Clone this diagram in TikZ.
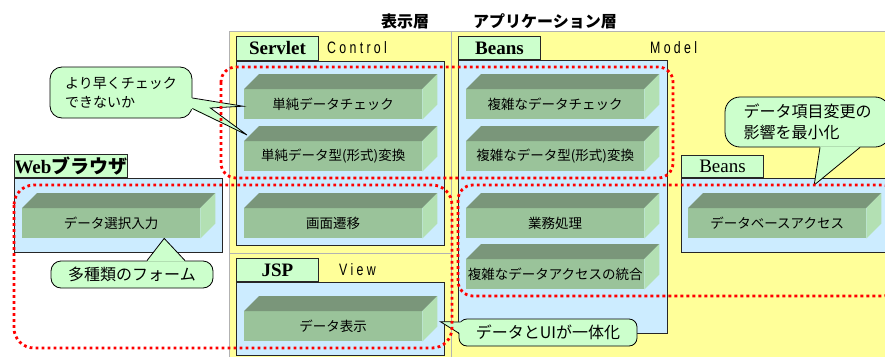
\documentclass[tikz,border=0pt]{standalone}
\usepackage{fontspec}
\setmainfont{Liberation Serif}
\newfontfamily\jp{Noto Sans CJK JP}
\newfontfamily\layerfont[FakeStretch=0.75,LetterSpace=20]{Liberation Sans}
\usetikzlibrary{calc}

\definecolor{layeryellow}{HTML}{FFFF99}
\definecolor{panelblue}{HTML}{CCECFF}
\definecolor{tabgreen}{HTML}{CCFFCC}
\definecolor{frontgreen}{HTML}{9AC39A}
\definecolor{topgreen}{HTML}{7A967A}
\definecolor{sidegreen}{HTML}{B3E0B3}
\definecolor{dotred}{HTML}{FF0000}

\tikzset{
  layer/.style={fill=layeryellow, draw=black!30, line width=1pt},
  panel/.style={fill=panelblue, draw=black!85, line width=1pt, inner sep=0pt, anchor=north west},
  tab/.style={fill=tabgreen, draw=black!85, line width=1pt, inner sep=0pt, anchor=south west,
    minimum width=82pt, minimum height=23pt, font=\fontsize{19}{20}\selectfont},
  brick/.style={fill=frontgreen, minimum width=178pt, minimum height=30pt, inner sep=0pt,
    anchor=north west, font=\jp\fontsize{13.5}{16}\selectfont},
  bricktop/.style={fill=topgreen},
  brickside/.style={fill=sidegreen},
  title/.style={font=\jp\bfseries\fontsize{16}{18}\selectfont, inner sep=0pt},
  layerlabel/.style={font=\layerfont\fontsize{16.5}{18}\selectfont, inner sep=0pt, anchor=west},
  callout/.style={fill=tabgreen, draw=black, line width=0.8pt, rounded corners=10pt,
    inner sep=0pt, align=left, font=\jp\fontsize{16}{21}\selectfont},
  tipfill/.style={fill=tabgreen},
  tipline/.style={draw=black, line width=0.8pt},
  zone/.style={draw=dotred, line width=2.8pt, dash pattern=on 2.8pt off 3.2pt, rounded corners=15pt},
}

% a green block with its top and side faces
\newcommand{\databox}[4]{%
  \node[brick] (#1) at (#2,#3) {#4};
  \fill[bricktop] (#1.north west) -- ++(15,-15) -- ($(#1.north east)+(15,-15)$) -- (#1.north east) -- cycle;
  \fill[brickside] (#1.north east) -- ++(15,-15) -- ($(#1.south east)+(15,-15)$) -- (#1.south east) -- cycle;
}

\begin{document}
\begin{tikzpicture}[x=1pt, y=-1pt]
    \useasboundingbox (0,0) rectangle (885,356);
    \clip (0,0) rectangle (885,356);

    % Drawing the layers
    \path[layer] (229,31) rectangle (451,253);
    \path[layer] (229,253) rectangle (451,362);
    \path[layer] (451,31) rectangle (892,362);
    \node[title] (presttl) at (405,21) {表示層};
    \node[title] (appttl) at (545,21) {アプリケーション層};

    % Drawing the browser side
    \node[panel, minimum width=208pt, minimum height=74pt] (webpanel) at (14,178) {};
    \node[tab, minimum width=112pt] (webtab) at (webpanel.north west) {\bfseries Web{\jp ブラウザ}};
    \databox{webselect}{22}{208}{データ選択入力}

    % Drawing the servlet
    \node[panel, minimum width=208pt, minimum height=184pt] (servletpanel) at (236,61) {};
    \node[tab, minimum height=24pt] (servlettab) at (servletpanel.north west) {\bfseries Servlet};
    \node[layerlabel] (ctllbl) at (327,48) {Control};
    \databox{ctlcheck}{244}{89}{単純データチェック}
    \databox{ctlconv}{244}{141}{単純データ型(形式)変換}
    \databox{ctlmove}{244}{208}{画面遷移}

    % Drawing the JSP
    \node[panel, minimum width=208pt, minimum height=73pt] (jsppanel) at (236,282) {};
    \node[tab] (jsptab) at (jsppanel.north west) {\bfseries JSP};
    \node[layerlabel] (viewlbl) at (339,270) {View};
    \databox{jspshow}{244}{311}{データ表示}

    % Drawing the beans of the model
    \node[panel, minimum width=209pt, minimum height=273pt] (beanspanel) at (458,60) {};
    \node[tab] (beanstab) at (beanspanel.north west) {\bfseries Beans};
    \node[layerlabel] (mdllbl) at (650,48) {Model};
    \databox{mdlcheck}{466}{89}{複雑なデータチェック}
    \databox{mdlconv}{466}{141}{複雑なデータ型(形式)変換}
    \databox{mdlbiz}{466}{208}{業務処理}
    \databox{mdlaccess}{466}{259}{複雑なデータアクセスの統合}

    % Drawing the data access beans
    \node[panel, minimum width=212pt, minimum height=74pt] (dbpanel) at (681,178) {};
    \node[tab, minimum height=22pt] (dbtab) at (dbpanel.north west) {Beans};
    \databox{dbaccess}{688}{208}{データベースアクセス}

    % Drawing the callouts
    \node[callout, rounded corners=12pt, minimum width=142pt, minimum height=51pt,
      font=\jp\fontsize{14}{19}\selectfont] (earlycheck) at (121,92.5) {より早くチェック\\できないか};
    \fill[tipfill] ($(earlycheck.east)+(-2,5.5)$) -- ($(ctlcheck.west)+(-1,2)$) -- ($(earlycheck.east)+(18,15.5)$)
      -- ($(ctlconv.north west)+(3,-6)$) -- ($(earlycheck.east)+(-2,16)$) -- cycle;
    \draw[tipline] ($(earlycheck.east)+(0,5.5)$) -- ($(ctlcheck.west)+(-1,2)$) -- ($(earlycheck.east)+(18,15.5)$)
      -- ($(ctlconv.north west)+(3,-6)$) -- ($(earlycheck.east)+(0,16)$);

    \node[callout, minimum width=162pt, minimum height=27pt] (formnote) at (132,274.5) {多種類のフォーム};
    \fill[tipfill] ($(formnote.north)+(15,1)$) -- ($(webselect.south)+(53,0)$) -- ($(formnote.north)+(53,1)$) -- cycle;
    \draw[tipline] ($(formnote.north)+(15,0)$) -- ($(webselect.south)+(53,0)$) -- ($(formnote.north)+(53,0)$);

    \node[callout, rounded corners=15pt, minimum width=165pt, minimum height=50pt] (itemnote) at (807.5,122)
      {データ項目変更の\\影響を最小化};
    \fill[tipfill] ($(itemnote.south)+(12.5,-1)$) -- ($(dbaccess.north)+(37,-23)$) -- ($(itemnote.south)+(52.5,-1)$) -- cycle;
    \draw[tipline] ($(itemnote.south)+(12.5,0)$) -- ($(dbaccess.north)+(37,-23)$) -- ($(itemnote.south)+(52.5,0)$);

    \node[callout, rounded corners=8pt, minimum width=178pt, minimum height=27pt] (uinote) at (548,332.5) {データとUIが一体化};
    \fill[tipfill] ($(uinote.west)+(5,-10.5)$) -- ($(jspshow.east)+(18,-4.5)$) -- ($(uinote.west)+(1,0.5)$) -- ($(uinote.west)+(5,0.5)$) -- cycle;
    \draw[tipline] ($(uinote.west)+(2,-10.5)$) -- ($(jspshow.east)+(18,-4.5)$) -- ($(uinote.west)+(0,0.5)$);

    % Drawing the dotted groups
    \draw[zone] (221,67) rectangle (673,178);
    \draw[zone, rounded corners=20pt] (14,185) rectangle (452,348);
    \draw[zone] (458,185) rectangle (897,296);
\end{tikzpicture}
\end{document}
